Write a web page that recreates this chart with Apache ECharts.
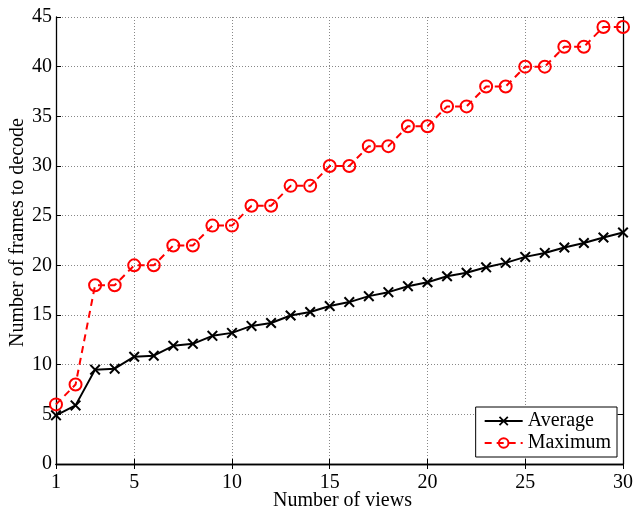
<!DOCTYPE html>
<html>
<head>
<meta charset="utf-8">
<script src="https://cdn.jsdelivr.net/npm/echarts@6/dist/echarts.min.js"></script>
<style>
  html, body { margin: 0; padding: 0; background: #fff; }
  #chart { width: 634px; height: 509px; }
</style>
</head>
<body>
<div id="chart"></div>
<script>
// number of views (x categories)
var views = [1, 2, 3, 4, 5, 6, 7, 8, 9, 10, 11, 12, 13, 14, 15,
  16, 17, 18, 19, 20, 21, 22, 23, 24, 25, 26, 27, 28, 29, 30];
// frames to decode
var average = [4.9, 5.9, 9.5, 9.6, 10.8, 10.9, 11.9, 12.1, 12.9, 13.2, 13.9, 14.2, 14.95, 15.3, 15.9,
  16.3, 16.9, 17.3, 17.9, 18.3, 18.9, 19.25, 19.8, 20.25, 20.85, 21.25, 21.8, 22.25, 22.8, 23.3];
var maximum = [6, 8, 18, 18, 20, 20, 22, 22, 24, 24, 26, 26, 28, 28, 30,
  30, 32, 32, 34, 34, 36, 36, 38, 38, 40, 40, 42, 42, 44, 44];

var font = 'Liberation Serif';
var crossIcon = 'path://M0,1.3L1.3,0L5,3.7L8.7,0L10,1.3L6.3,5L10,8.7L8.7,10L5,6.3L1.3,10L0,8.7L3.7,5Z';

// show ticks at 1, 5, 10, ... 30
var showTick = function (idx) { return idx === 0 || (idx + 1) % 5 === 0; };
var showGrid = function (idx) { return (idx + 1) % 5 === 0 && idx !== views.length - 1; };

var chart = echarts.init(document.getElementById('chart'));

var option = {
  animation: false,
  backgroundColor: '#fff',
  textStyle: { fontFamily: font },
  grid: {
    left: 56, right: 11, top: 17, bottom: 45,
    outerBoundsMode: 'none'
  },
  legend: {
    orient: 'vertical',
    right: 17,
    top: 407,
    padding: [4, 6, 4, 8],
    itemGap: 2,
    itemWidth: 38,
    itemHeight: 12,
    borderColor: '#000',
    borderWidth: 1,
    backgroundColor: '#fff',
    textStyle: { fontFamily: font, fontSize: 20, color: '#000' },
    data: ['Average', 'Maximum']
  },
  xAxis: [
    {
      type: 'category',
      data: views,
      boundaryGap: false,
      name: 'Number of views',
      nameLocation: 'middle',
      nameGap: 27,
      nameMoveOverlap: false,
      nameTextStyle: { fontFamily: font, fontSize: 20, color: '#000', padding: [0, 0, 0, 6] },
      axisLine: { lineStyle: { color: '#000', width: 1.3 } },
      axisTick: { inside: true, length: 5, interval: showTick, lineStyle: { color: '#000' } },
      axisLabel: { interval: showTick, fontFamily: font, fontSize: 20, color: '#000', margin: 9 },
      splitLine: { show: true, interval: showGrid, lineStyle: { type: [1, 2], color: '#888', width: 1 } }
    },
    {
      type: 'category',
      data: views,
      boundaryGap: false,
      position: 'top',
      axisLine: { lineStyle: { color: '#000', width: 1.3 } },
      axisTick: { inside: true, length: 5, interval: showTick, lineStyle: { color: '#000' } },
      axisLabel: { show: false },
      splitLine: { show: false }
    }
  ],
  yAxis: [
    {
      type: 'value',
      min: 0,
      max: 45,
      interval: 5,
      name: 'Number of frames to decode',
      nameLocation: 'middle',
      nameGap: 28,
      nameMoveOverlap: false,
      nameTextStyle: { fontFamily: font, fontSize: 20, color: '#000', padding: [0, 0, 0, 16] },
      axisLine: { show: true, lineStyle: { color: '#000', width: 1.3 } },
      axisTick: { show: true, inside: true, length: 5, lineStyle: { color: '#000' } },
      axisLabel: { fontFamily: font, fontSize: 20, color: '#000', margin: 4 },
      splitLine: { show: true, lineStyle: { type: [1, 2], color: '#888', width: 1 } }
    },
    {
      type: 'value',
      min: 0,
      max: 45,
      interval: 5,
      position: 'right',
      axisLine: { show: true, lineStyle: { color: '#000', width: 1.3 } },
      axisTick: { show: true, inside: true, length: 5, lineStyle: { color: '#000' } },
      axisLabel: { show: false },
      splitLine: { show: false }
    }
  ],
  series: [
    {
      name: 'Average',
      type: 'line',
      data: average,
      symbol: crossIcon,
      symbolSize: 11,
      itemStyle: { color: '#000' },
      lineStyle: { color: '#000', width: 2 },
      z: 3
    },
    {
      name: 'Maximum',
      type: 'line',
      data: maximum,
      symbol: 'circle',
      symbolSize: 12,
      itemStyle: { color: 'rgba(0,0,0,0)', borderColor: '#f00', borderWidth: 2 },
      lineStyle: { color: '#f00', width: 2, type: [7, 5] },
      z: 4
    }
  ]
};

chart.setOption(option);
</script>
</body>
</html>
